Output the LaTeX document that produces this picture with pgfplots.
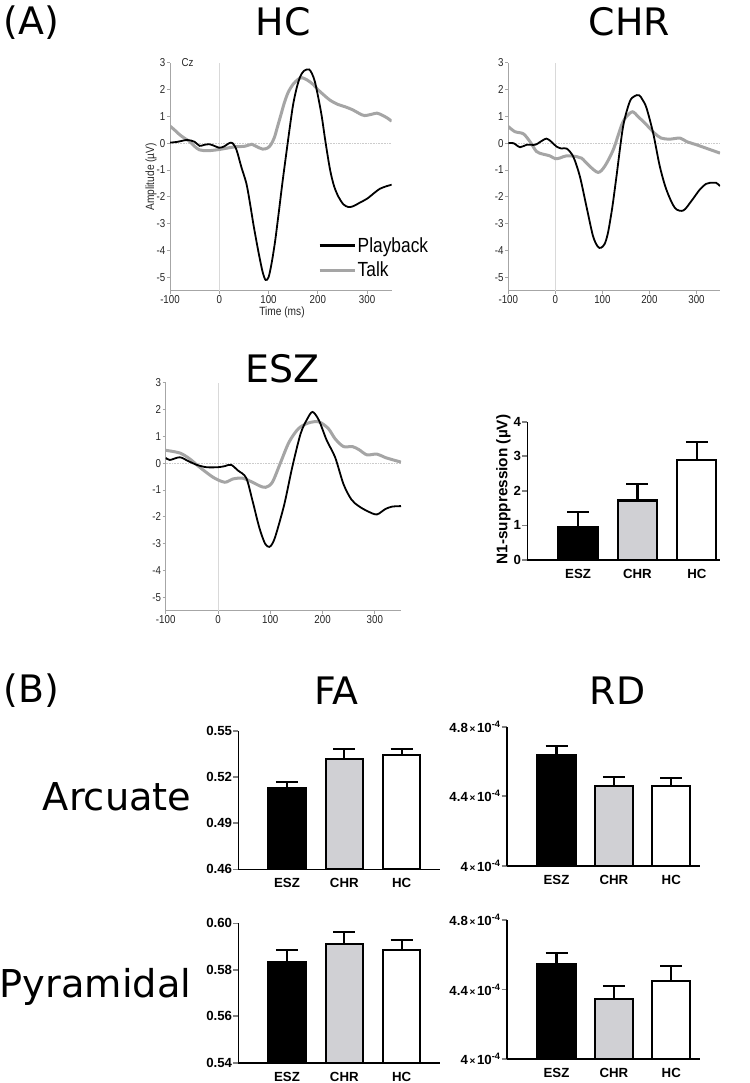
\documentclass[border=0pt]{standalone}
\usepackage{fontspec}
\setmainfont{Liberation Sans}
\newfontfamily\dv{DejaVu Sans}
\newfontfamily\erp[FakeStretch=0.85]{Liberation Sans}
\usepackage{pgfplots}
\pgfplotsset{compat=1.18}
\definecolor{talkgray}{RGB}{165,165,165}
\definecolor{chrfill}{RGB}{208,208,212}
\newcommand{\rdl}[1]{{\bfseries #1}{\fontsize{10}{10}\selectfont\,×\,}{\bfseries 10}\textsuperscript{\bfseries -4}}
\pgfplotsset{
 erpaxis/.style={
   scale only axis, anchor=south west,
   xmin=-100, xmax=350, ymin=-5.5, ymax=3,
   axis x line*=bottom, axis y line*=left,
   axis line style={draw=black!35, line width=0.8bp},
   xtick={-100,0,100,200,300}, ytick={-5,-4,...,3},
   tick style={draw=black!35, line width=0.8bp},
   tick align=outside, major tick length=3bp,
   ticklabel style={font=\erp\fontsize{11.5}{12}\selectfont, text=black!85, inner sep=1.5bp},
   /pgf/number format/assume math mode=true,
 },
 baraxis/.style={
   scale only axis, anchor=south west, ybar,
   axis x line*=bottom, axis y line*=left,
   axis line style={line width=1.6bp},
   ytick style={line width=1.6bp}, xtick style={draw=none},
   tick align=outside, major tick length=5bp,
   xtick={1,2,3}, xticklabels={ESZ,CHR,HC},
   ticklabel style={font=\bfseries\fontsize{13.3}{13}\selectfont, inner sep=1bp},
   xticklabel style={yshift=-3bp},
 },
 bp/.style={bar shift=0pt, draw=black, line width=2.2bp, fill=#1,
   error bars/.cd, y dir=plus, y explicit,
   error bar style={line width=2.2bp, black},
   error mark options={rotate=90, line width=2.2bp, black, mark size=11bp}},
}
\begin{document}
\begin{tikzpicture}
\path[use as bounding box] (0,0) rectangle (750bp,-1083bp);
% titles
\node[anchor=west, font=\dv\fontsize{38}{38}\selectfont] at (0bp,-23bp) {(A)};
\node[font=\dv\fontsize{38}{38}\selectfont] at (283bp,-21.5bp) {HC};
\node[font=\dv\fontsize{38}{38}\selectfont] at (629.5bp,-21.5bp) {CHR};
\node[font=\dv\fontsize{38}{38}\selectfont] at (282.5bp,-369bp) {ESZ};
\node[anchor=west, font=\dv\fontsize{38}{38}\selectfont] at (0bp,-691bp) {(B)};
\node[font=\dv\fontsize{38}{38}\selectfont] at (336.7bp,-691bp) {FA};
\node[font=\dv\fontsize{38}{38}\selectfont] at (617.5bp,-691bp) {RD};
\node[anchor=east, font=\dv\fontsize{38.5}{38}\selectfont] at (195bp,-797bp) {Arcuate};
\node[anchor=east, font=\dv\fontsize{38.5}{38}\selectfont] at (195bp,-987bp) {Pyramidal};
% ERP labels
\node[rotate=90, font=\erp\fontsize{12}{12}\selectfont, text=black!85] at (151bp,-176.7bp) {Amplitude (µV)};
\node[font=\erp\fontsize{12}{12}\selectfont, text=black!85] at (282bp,-312bp) {Time (ms)};
\node[font=\erp\fontsize{11.5}{12}\selectfont, text=black!85] at (187.5bp,-63bp) {Cz};
\node[rotate=90, font=\bfseries\fontsize{15.4}{16}\selectfont] at (503.5bp,-489.5bp) {N1-suppression (µV)};

% HC ERP
\begin{axis}[erpaxis, at={(170bp,-290.7bp)}, width=221.7bp, height=228bp,
  reverse legend,
  legend style={at={(0.6676,0.24)}, anchor=north west, draw=none, fill=none, inner sep=0pt,
    font=\erp\fontsize{20.5}{20.5}\selectfont, row sep=5bp, nodes={inner sep=1.5bp}},
  legend cell align=left,
  legend image code/.code={\draw[#1, line width=3bp] (0bp,0bp) -- (35bp,0bp);}]
\addplot[forget plot, black!15, line width=0.6bp] coordinates {(0,-5.5) (0,3)};
\addplot[forget plot, black!20, densely dotted, line width=0.6bp] coordinates {(-100,0) (350,0)};
\addplot[smooth, talkgray, line width=3bp] coordinates {(-100,0.64)(-90,0.48)(-80,0.31)(-70,0.18)(-60,0.06)(-50,-0.12)(-40,-0.25)(-25,-0.28)(-10,-0.26)(5,-0.22)(20,-0.17)(35,-0.13)(50,-0.12)(60,-0.07)(66,-0.04)(75,-0.12)(88,-0.22)(98,-0.18)(105,-0.05)(112,0.22)(118,0.6)(125,1.05)(132,1.5)(140,1.9)(150,2.2)(160,2.38)(168,2.44)(178,2.36)(190,2.2)(200,2.0)(212,1.8)(225,1.6)(240,1.45)(255,1.36)(270,1.25)(285,1.1)(295,1.03)(310,1.08)(320,1.12)(330,1.05)(340,0.95)(350,0.82)};
\addlegendentry{Talk}
\addplot[smooth, black, line width=1.8bp] coordinates {(-100,0.02)(-85,0.05)(-65,0.12)(-50,0.05)(-40,-0.1)(-30,-0.06)(-20,-0.04)(-10,-0.1)(0,-0.17)(10,-0.12)(20,0.0)(27,0.0)(35,-0.25)(45,-0.9)(55,-1.5)(62,-2.2)(70,-3.1)(80,-4.1)(88,-4.8)(94,-5.1)(100,-5.0)(106,-4.5)(113,-3.7)(120,-2.7)(128,-1.5)(137,-0.25)(144,0.7)(150,1.45)(157,2.05)(164,2.47)(172,2.7)(182,2.75)(188,2.6)(194,2.3)(201,1.7)(208,1.0)(216,0.0)(225,-1.0)(233,-1.6)(242,-2.0)(252,-2.28)(262,-2.38)(272,-2.35)(285,-2.22)(300,-2.07)(315,-1.85)(326,-1.70)(340,-1.6)(350,-1.55)};
\addlegendentry{Playback}
\end{axis}

% CHR ERP
\begin{axis}[erpaxis, at={(508.3bp,-290.7bp)}, width=211.7bp, height=228bp]
\addplot[black!15, line width=0.6bp] coordinates {(0,-5.5) (0,3)};
\addplot[black!20, densely dotted, line width=0.6bp] coordinates {(-100,0) (350,0)};
\addplot[smooth, talkgray, line width=3bp] coordinates {(-100,0.62)(-86,0.43)(-68,0.35)(-54,0.06)(-40,-0.31)(-26,-0.41)(-12,-0.47)(0,-0.58)(10,-0.55)(24,-0.47)(45,-0.5)(56,-0.56)(73,-0.86)(91,-1.09)(105,-0.86)(123,-0.25)(141,0.68)(151,0.99)(164,1.17)(176,0.99)(194,0.68)(211,0.37)(225,0.19)(243,0.15)(265,0.19)(279,0.06)(300,-0.06)(321,-0.19)(350,-0.37)};
\addplot[smooth, black, line width=1.8bp] coordinates {(-100,0.0)(-89,0.0)(-75,-0.15)(-61,-0.06)(-43,-0.06)(-33,0.04)(-19,0.17)(-9,0.06)(2,-0.12)(13,-0.2)(24,-0.2)(38,-0.5)(52,-1.23)(66,-2.35)(80,-3.46)(90,-3.85)(97,-3.9)(105,-3.75)(112,-3.33)(121,-2.4)(130,-1.23)(144,0.62)(158,1.54)(168,1.75)(178,1.79)(186,1.6)(194,1.3)(208,0.37)(222,-0.86)(236,-1.73)(254,-2.41)(272,-2.51)(289,-2.16)(307,-1.73)(320,-1.52)(328,-1.48)(342,-1.48)(350,-1.6)};
\end{axis}

% ESZ ERP
\begin{axis}[erpaxis, at={(165.7bp,-610.7bp)}, width=235.3bp, height=228bp]
\addplot[black!15, line width=0.6bp] coordinates {(0,-5.5) (0,3)};
\addplot[black!20, densely dotted, line width=0.6bp] coordinates {(-100,0) (350,0)};
\addplot[smooth, talkgray, line width=3bp] coordinates {(-100,0.48)(-73,0.38)(-54,0.16)(-35,-0.15)(-9,-0.53)(13,-0.71)(28,-0.59)(47,-0.56)(66,-0.71)(79,-0.84)(91,-0.9)(104,-0.71)(120,0.04)(136,0.79)(154,1.29)(173,1.5)(193,1.54)(211,1.29)(224,0.91)(240,0.62)(257,0.62)(270,0.5)(285,0.31)(304,0.34)(320,0.21)(350,0.04)};
\addplot[smooth, black, line width=1.8bp] coordinates {(-100,0.2)(-92,0.12)(-73,0.22)(-57,0.08)(-41,-0.06)(-22,-0.15)(0,-0.15)(13,-0.11)(25,-0.06)(38,-0.27)(54,-0.55)(66,-1.4)(79,-2.4)(90,-3.0)(98,-3.12)(104,-3.0)(111,-2.65)(127,-1.52)(142,-0.15)(158,1.1)(171,1.66)(181,1.91)(193,1.6)(208,0.85)(224,0.22)(240,-0.78)(255,-1.35)(269,-1.6)(288,-1.81)(304,-1.91)(320,-1.71)(333,-1.62)(350,-1.6)};
\end{axis}

% N1 suppression
\begin{axis}[baraxis, at={(527.3bp,-560bp)}, width=192.7bp, height=138.3bp,
  xmin=0.145, xmax=3.39, ymin=0, ymax=4, ytick={0,1,2,3,4}, yticklabels={0,1,2,3,4}, bar width=39bp]
\addplot[bp=black] coordinates {(1,0.96) +- (0,0.42)};
\addplot[bp=chrfill] coordinates {(2,1.72) +- (0,0.48)};
\addplot[bp=white] coordinates {(3,2.89) +- (0,0.53)};
\end{axis}

% FA Arcuate
\begin{axis}[baraxis, at={(238.3bp,-869.3bp)}, width=201.7bp, height=138.3bp,
  xmin=0.151, xmax=3.668, ymin=0.46, ymax=0.55, ytick={0.46,0.49,0.52,0.55}, yticklabels={0.46,0.49,0.52,0.55}, bar width=37bp]
\addplot[bp=black] coordinates {(1,0.5129) +- (0,0.0041)};
\addplot[bp=chrfill] coordinates {(2,0.5320) +- (0,0.0063)};
\addplot[bp=white] coordinates {(3,0.5346) +- (0,0.0037)};
\end{axis}

% RD Arcuate
\begin{axis}[baraxis, at={(506.7bp,-865.7bp)}, width=193.3bp, height=139bp,
  xmin=0.132, xmax=3.5, ymin=4, ymax=4.8, ytick={4,4.4,4.8}, yticklabels={\rdl{4},\rdl{4.4},\rdl{4.8}}, bar width=38bp]
\addplot[bp=black] coordinates {(1,4.635) +- (0,0.054)};
\addplot[bp=chrfill] coordinates {(2,4.458) +- (0,0.052)};
\addplot[bp=white] coordinates {(3,4.458) +- (0,0.046)};
\end{axis}

% FA Pyramidal
\begin{axis}[baraxis, at={(238.3bp,-1062.7bp)}, width=201.7bp, height=139.4bp,
  xmin=0.151, xmax=3.668, ymin=0.54, ymax=0.60, ytick={0.54,0.56,0.58,0.60}, yticklabels={0.54,0.56,0.58,0.60}, bar width=37bp]
\addplot[bp=black] coordinates {(1,0.5835) +- (0,0.0050)};
\addplot[bp=chrfill] coordinates {(2,0.5911) +- (0,0.0050)};
\addplot[bp=white] coordinates {(3,0.5884) +- (0,0.0044)};
\end{axis}

% RD Pyramidal
\begin{axis}[baraxis, at={(506.7bp,-1059bp)}, width=193.3bp, height=139bp,
  xmin=0.132, xmax=3.5, ymin=4, ymax=4.8, ytick={4,4.4,4.8}, yticklabels={\rdl{4},\rdl{4.4},\rdl{4.8}}, bar width=38bp]
\addplot[bp=black] coordinates {(1,4.547) +- (0,0.065)};
\addplot[bp=chrfill] coordinates {(2,4.347) +- (0,0.073)};
\addplot[bp=white] coordinates {(3,4.451) +- (0,0.084)};
\end{axis}
\end{tikzpicture}
\end{document}
